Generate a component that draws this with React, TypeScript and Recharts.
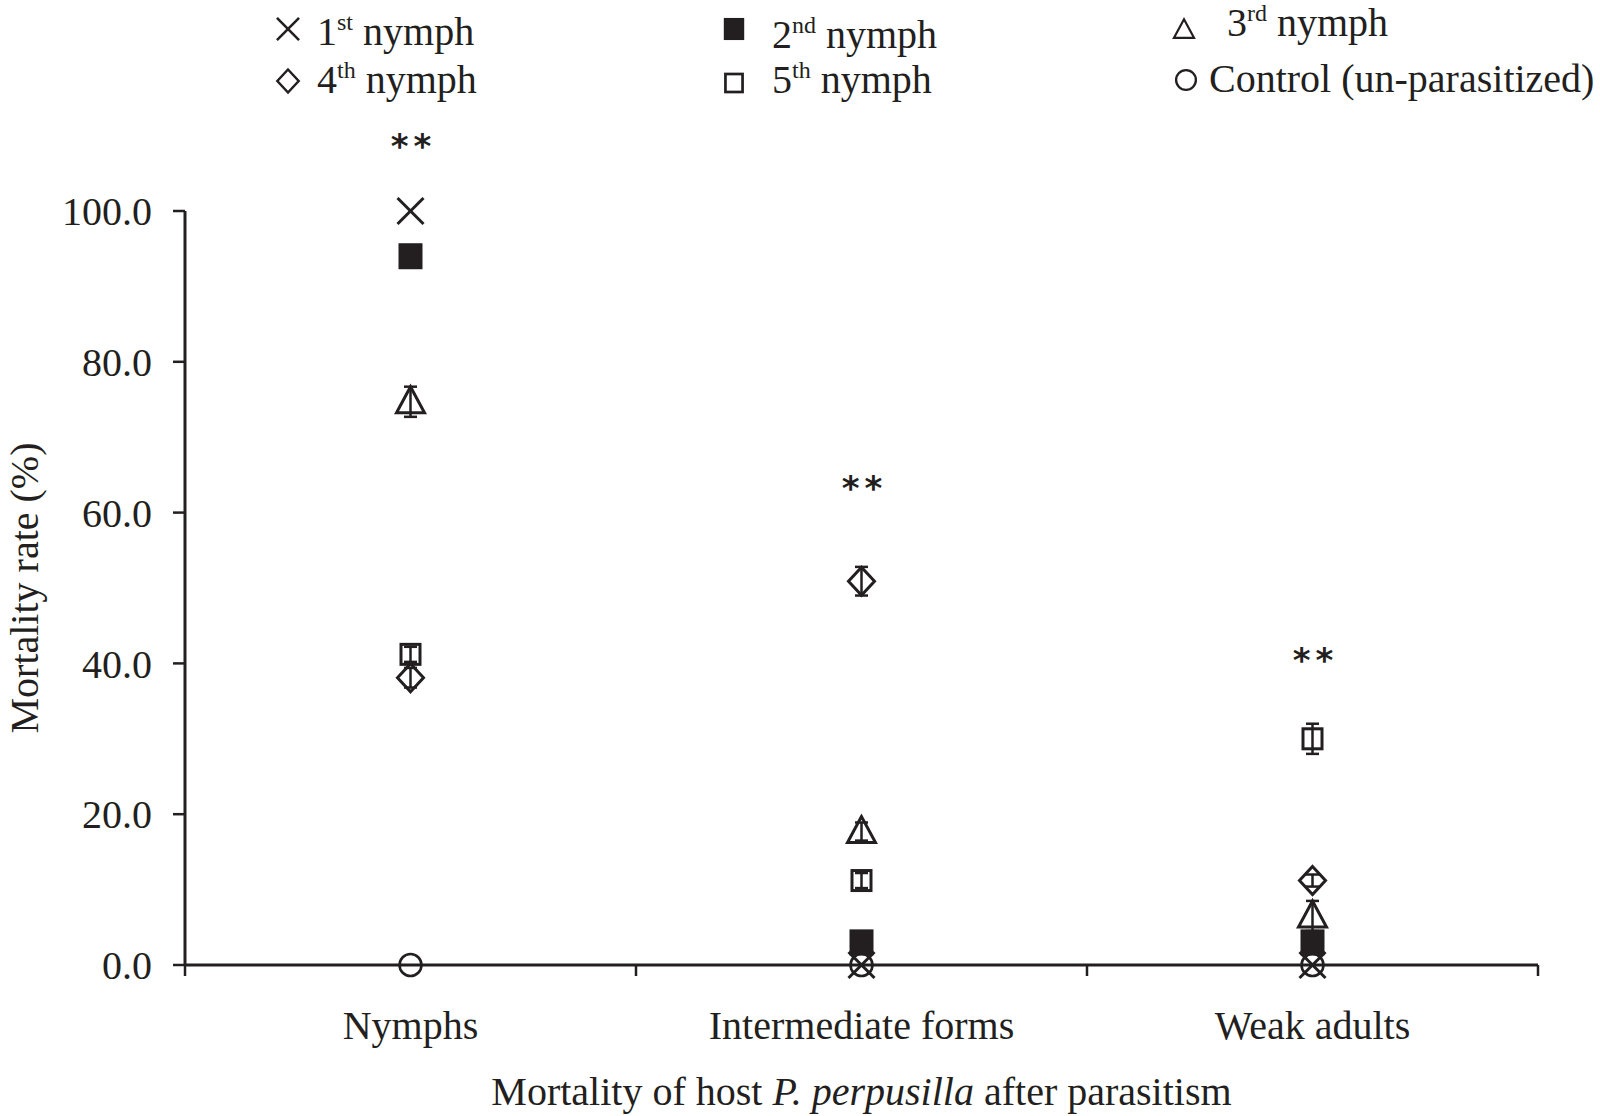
import React from "react";
import { ScatterChart, Scatter, XAxis, YAxis, ErrorBar, ReferenceDot } from "recharts";

// values (mortality %, mean with error)
const categories = ["Nymphs", "Intermediate forms", "Weak adults"];
const nymph1 = [100.0, 0.0, 0.0];
const nymph2 = [94.0, 3.0, 3.0];
const nymph3 = [74.7, 17.7, 6.5];
const nymph3Err = [2.0, 1.2, 2.0];
const nymph4 = [38.1, 50.9, 11.2];
const nymph4Err = [1.3, 1.9, 0.8];
const nymph5 = [41.2, 11.2, 30.0];
const nymph5Err = [1.0, 1.0, 2.0];
const control = [0.0, 0.0, 0.0];
const sigLabels = ["**", "**", "**"];
const sigHeights = [109.4, 64.0, 41.3];
const yTicks = [0, 20, 40, 60, 80, 100];

const INK = "#231f20";
const SERIF = "'Liberation Serif', 'Times New Roman', serif";
const FS = 40;

type Kind = "cross" | "filled" | "triangle" | "diamond" | "square" | "circle";

function Marker({ kind, cx, cy, s = 1 }: { kind: Kind; cx: number; cy: number; s?: number }) {
  const sw = 3 * s;
  switch (kind) {
    case "cross": {
      const a = 13 * s;
      return (
        <g stroke={INK} strokeWidth={sw}>
          <line x1={cx - a} y1={cy - a} x2={cx + a} y2={cy + a} />
          <line x1={cx - a} y1={cy + a} x2={cx + a} y2={cy - a} />
        </g>
      );
    }
    case "filled":
      return <rect x={cx - 12 * s} y={cy - 13 * s} width={24 * s} height={26 * s} fill={INK} />;
    case "triangle":
      return (
        <polygon
          points={`${cx},${cy - 15 * s} ${cx - 14 * s},${cy + 11 * s} ${cx + 14 * s},${cy + 11 * s}`}
          fill="none"
          stroke={INK}
          strokeWidth={sw}
        />
      );
    case "diamond":
      return (
        <polygon
          points={`${cx},${cy - 14 * s} ${cx + 13 * s},${cy} ${cx},${cy + 14 * s} ${cx - 13 * s},${cy}`}
          fill="none"
          stroke={INK}
          strokeWidth={sw}
        />
      );
    case "square":
      return (
        <rect x={cx - 9.5 * s} y={cy - 10 * s} width={19 * s} height={20 * s} fill="none" stroke={INK} strokeWidth={sw} />
      );
    default:
      return <circle cx={cx} cy={cy} r={11 * s} fill="none" stroke={INK} strokeWidth={2.6 * s} />;
  }
}

const series: { key: string; kind: Kind; values: number[]; errors?: number[] }[] = [
  { key: "control", kind: "circle", values: control },
  { key: "n1", kind: "cross", values: nymph1 },
  { key: "n2", kind: "filled", values: nymph2 },
  { key: "n3", kind: "triangle", values: nymph3, errors: nymph3Err },
  { key: "n4", kind: "diamond", values: nymph4, errors: nymph4Err },
  { key: "n5", kind: "square", values: nymph5, errors: nymph5Err },
];

// legend entries: ordinal, superscript, rest
const legendItems: { kind: Kind; main: string; sup?: string; rest: string }[] = [
  { kind: "cross", main: "1", sup: "st", rest: " nymph" },
  { kind: "filled", main: "2", sup: "nd", rest: " nymph" },
  { kind: "triangle", main: "3", sup: "rd", rest: " nymph" },
  { kind: "diamond", main: "4", sup: "th", rest: " nymph" },
  { kind: "square", main: "5", sup: "th", rest: " nymph" },
  { kind: "circle", main: "Control (un-parasitized)", rest: "" },
];
// legend layout: marker x/y, marker scale, text x, baseline
const legendLayout = [
  { mx: 288, my: 29, s: 0.85, tx: 317, by: 45 },
  { mx: 734, my: 29, s: 0.85, tx: 772, by: 48 },
  { mx: 1184, my: 30, s: 0.72, tx: 1227, by: 36 },
  { mx: 288, my: 81, s: 0.82, tx: 317, by: 93 },
  { mx: 734, my: 83, s: 0.9, tx: 772, by: 93 },
  { mx: 1186, my: 80, s: 0.9, tx: 1209, by: 92 },
];

const xTicks = Array.from({ length: categories.length * 2 + 1 }, (_, i) => i / 2);

function XTick(props: any) {
  const { x, y, payload } = props;
  const v = payload.value as number;
  if (Number.isInteger(v)) {
    return <line x1={x} y1={y} x2={x} y2={y + 11} stroke={INK} strokeWidth={2.5} />;
  }
  return (
    <text x={x} y={y + 74} textAnchor="middle" fill={INK} fontSize={FS} fontFamily={SERIF}>
      {categories[Math.floor(v)]}
    </text>
  );
}

function XTitle(props: any) {
  const vb = props.viewBox || { x: 185, y: 965, width: 1353, height: 151 };
  return (
    <text x={vb.x + vb.width / 2} y={vb.y + 140} textAnchor="middle" fill={INK} fontSize={FS} fontFamily={SERIF}>
      Mortality of host <tspan fontStyle="italic">P. perpusilla</tspan> after parasitism
    </text>
  );
}

function YTitle(props: any) {
  const vb = props.viewBox || { x: 0, y: 211, width: 185, height: 754 };
  const cx = vb.x + 38;
  const cy = vb.y + vb.height / 2;
  return (
    <text
      x={cx}
      y={cy}
      transform={`rotate(-90 ${cx} ${cy})`}
      textAnchor="middle"
      fill={INK}
      fontSize={FS}
      fontFamily={SERIF}
    >
      Mortality rate (%)
    </text>
  );
}

function ChartLegend() {
  return (
    <svg width={1600} height={120} style={{ position: "absolute", left: 0, top: 0 }}>
      {legendItems.map((it, i) => {
        const l = legendLayout[i];
        return (
          <g key={i}>
            <Marker kind={it.kind} cx={l.mx} cy={l.my} s={l.s} />
            <text x={l.tx} y={l.by} fill={INK} fontSize={FS} fontFamily={SERIF}>
              {it.main}
              {it.sup ? (
                <tspan fontSize={24} dy={-15}>
                  {it.sup}
                </tspan>
              ) : null}
              {it.sup ? <tspan dy={15}>{it.rest}</tspan> : null}
            </text>
          </g>
        );
      })}
    </svg>
  );
}

export default function App() {
  return (
    <div style={{ position: "absolute", left: 0, top: 0, width: 1600, height: 1116, background: "#fff" }}>
      <ScatterChart width={1600} height={1116} margin={{ top: 211, right: 62, bottom: 0, left: 0 }}>
        <XAxis
          type="number"
          dataKey="x"
          domain={[0, categories.length]}
          ticks={xTicks}
          interval={0}
          height={151}
          tickSize={0}
          tickMargin={0}
          tickLine={false}
          axisLine={{ stroke: INK, strokeWidth: 3 }}
          tick={<XTick />}
          label={<XTitle />}
        />
        <YAxis
          type="number"
          dataKey="y"
          domain={[0, 100]}
          ticks={yTicks}
          interval={0}
          width={185}
          tickSize={12}
          tickMargin={21}
          tickFormatter={(v: number) => v.toFixed(1)}
          axisLine={{ stroke: INK, strokeWidth: 3 }}
          tickLine={{ stroke: INK, strokeWidth: 2.5 }}
          tick={{ fill: INK, fontSize: FS, fontFamily: SERIF }}
          label={<YTitle />}
        />
        {series.map((s) => (
          <Scatter
            key={s.key}
            name={s.key}
            data={categories.map((c, i) => ({ x: i + 0.5, y: s.values[i], err: s.errors ? s.errors[i] : 0 }))}
            isAnimationActive={false}
            shape={(p: any) => <Marker kind={s.kind} cx={p.cx} cy={p.cy} />}
          >
            {s.errors ? (
              <ErrorBar dataKey="err" direction="y" width={6.5} stroke={INK} strokeWidth={2.5} />
            ) : null}
          </Scatter>
        ))}
        {sigLabels.map((lab, i) => (
          <ReferenceDot
            key={i}
            x={i + 0.5}
            y={sigHeights[i]}
            r={0}
            ifOverflow="visible"
            shape={(p: any) => (
              <text
                x={p.cx + 3}
                y={p.cy + 18}
                textAnchor="middle"
                fill={INK}
                fontSize={34}
                fontWeight="bold"
                fontFamily="'DejaVu Sans', sans-serif"
                letterSpacing={5}
              >
                {lab}
              </text>
            )}
          />
        ))}
      </ScatterChart>
      <ChartLegend />
    </div>
  );
}
